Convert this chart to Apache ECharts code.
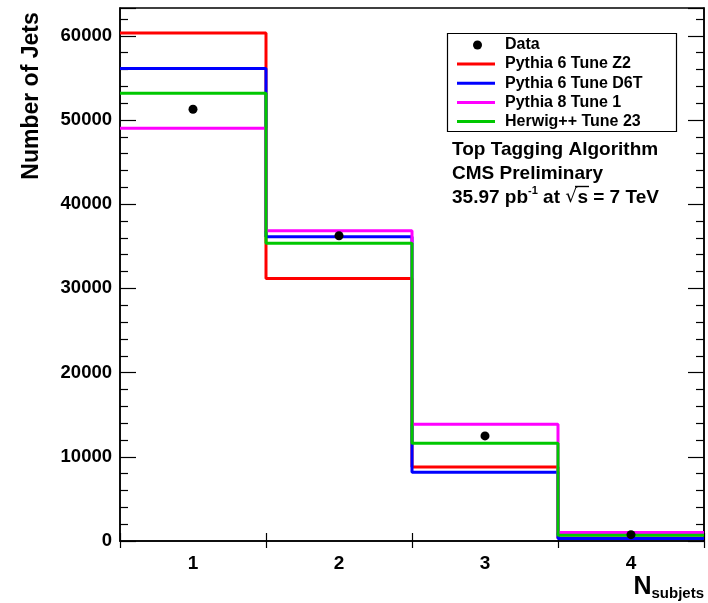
<!DOCTYPE html>
<html>
<head>
<meta charset="utf-8">
<script src="https://cdn.jsdelivr.net/npm/echarts@6/dist/echarts.min.js"></script>
<style>
  html, body { margin: 0; padding: 0; background: #fff; }
  #chart { width: 708px; height: 603px; }
</style>
</head>
<body>
<div id="chart"></div>
<script>
// Number of subjets per jet: bins and counts
const bins = [1, 2, 3, 4];
const binLabels = ['1', '2', '3', '4'];
const dataCounts   = [51280, 36250, 12480, 750];
const pythia6Z2    = [60320, 31180, 8800, 350];
const pythia6D6T   = [56110, 36130, 8160, 300];
const pythia8Tune1 = [49020, 36850, 13870, 1000];
const herwigTune23 = [53190, 35350, 11620, 680];
const yTicks = [0, 10000, 20000, 30000, 40000, 50000, 60000];

const FONT = '"Liberation Sans", Arial, Helvetica, sans-serif';

// Step outline of a histogram: flat top across each bin, vertical joins at edges
function stepPoints(values) {
  const pts = [];
  values.forEach((v, i) => {
    pts.push([bins[i] - 0.5, v]);
    pts.push([bins[i] + 0.5, v]);
  });
  return pts;
}

function histSeries(name, values, color) {
  return {
    name: name,
    type: 'line',
    xAxisIndex: 0,
    yAxisIndex: 0,
    data: stepPoints(values),
    showSymbol: false,
    symbol: 'none',
    lineStyle: { color: color, width: 3 },
    itemStyle: { color: color },
    animation: false
  };
}

const chart = echarts.init(document.getElementById('chart'), null, { renderer: 'canvas' });

const yMin = yTicks[0];
const yMax = 63300;
const grid = { left: 120, right: 4, top: 8, bottom: 62 };
const legendText = { color: '#000', fontFamily: FONT, fontWeight: 'bold', fontSize: 16 };

const option = {
  backgroundColor: '#ffffff',
  animation: false,
  grid: Object.assign({ show: true, borderColor: '#000', borderWidth: 1.5, backgroundColor: 'transparent' }, grid),
  xAxis: [
    {
      // bin edges with ticks pointing into the frame
      type: 'value', min: 0.5, max: 4.5, interval: 1, position: 'bottom',
      axisLine: { show: true, onZero: false, lineStyle: { color: '#000', width: 1.5 } },
      axisTick: { show: true, inside: true, length: 8, lineStyle: { color: '#000', width: 1.2 } },
      axisLabel: { show: false },
      splitLine: { show: false }
    },
    {
      // category labels centred in each bin
      type: 'category', data: binLabels, boundaryGap: true, position: 'bottom',
      axisLine: { show: false }, axisTick: { show: false },
      axisLabel: { show: true, margin: 13, color: '#000', fontFamily: FONT, fontWeight: 'bold', fontSize: 19 },
      splitLine: { show: false }
    },
    {
      // edge ticks continuing below the axis
      type: 'value', min: 0.5, max: 4.5, interval: 1, position: 'bottom',
      axisLine: { show: false, onZero: false },
      axisTick: { show: true, inside: false, length: 7, lineStyle: { color: '#000', width: 1.2 } },
      axisLabel: { show: false },
      splitLine: { show: false }
    }
  ],
  yAxis: [
    {
      type: 'value', min: yMin, max: yMax, interval: 10000, position: 'left',
      axisLine: { show: true, onZero: false, lineStyle: { color: '#000', width: 1.5 } },
      axisTick: { show: true, inside: true, length: 16, lineStyle: { color: '#000', width: 1.2 } },
      minorTick: { show: true, splitNumber: 5, length: 8, lineStyle: { color: '#000', width: 1.2 } },
      axisLabel: {
        show: true, margin: 8, color: '#000', fontFamily: FONT, fontWeight: 'bold', fontSize: 18.5,
        showMaxLabel: false,
        formatter: v => (yTicks.indexOf(v) >= 0 ? String(v) : '')
      },
      splitLine: { show: false }
    },
    {
      type: 'value', min: yMin, max: yMax, interval: 10000, position: 'right',
      axisLine: { show: true, onZero: false, lineStyle: { color: '#000', width: 1.5 } },
      axisTick: { show: true, inside: true, length: 16, lineStyle: { color: '#000', width: 1.2 } },
      minorTick: { show: true, splitNumber: 5, length: 8, lineStyle: { color: '#000', width: 1.2 } },
      axisLabel: { show: false },
      splitLine: { show: false }
    }
  ],
  legend: [
    {
      data: [{ name: 'Data', icon: 'circle' }],
      orient: 'vertical', left: 473, top: 37, padding: 0,
      itemWidth: 9, itemHeight: 9, itemGap: 0,
      selectedMode: false,
      textStyle: Object.assign({ padding: [0, 0, 0, 18] }, legendText)
    },
    {
      data: ['Pythia 6 Tune Z2', 'Pythia 6 Tune D6T', 'Pythia 8 Tune 1', 'Herwig++ Tune 23'].map(n => ({ name: n, icon: 'rect' })),
      orient: 'vertical', left: 457, top: 56, padding: 0,
      itemWidth: 38, itemHeight: 3, itemGap: 3.2,
      selectedMode: false,
      textStyle: Object.assign({ padding: [0, 0, 0, 5] }, legendText)
    }
  ],
  graphic: [
    {
      type: 'rect', shape: { x: 447.5, y: 33.5, width: 229, height: 98 },
      style: { fill: 'transparent', stroke: '#000', lineWidth: 1.2 }, z: 10
    },
    {
      type: 'text', left: 452, top: 140,
      style: {
        text: '{n|Top Tagging Algorithm}\n{n|CMS Preliminary}\n{n|35.97 pb}{sup|-1}{n| at }{r|√}{s|s}{n| = 7 TeV}',
        fill: '#000',
        rich: {
          n: { fontFamily: FONT, fontWeight: 'bold', fontSize: 19, lineHeight: 24 },
          sup: { fontFamily: FONT, fontWeight: 'bold', fontSize: 11, lineHeight: 24, verticalAlign: 'top', padding: [0, 0, 10, 0] },
          r: { fontFamily: '"DejaVu Sans", sans-serif', fontWeight: 'normal', fontSize: 19, lineHeight: 24 },
          s: { fontFamily: FONT, fontWeight: 'bold', fontSize: 19, lineHeight: 24 }
        }
      }
    },
    {
      // bar of the square-root sign over "s"
      type: 'line', shape: { x1: 575, y1: 186.5, x2: 589, y2: 186.5 },
      style: { stroke: '#000', lineWidth: 1.4 }
    },
    {
      type: 'text', x: 32, y: 96, rotation: Math.PI / 2,
      style: { text: 'Number of Jets', fill: '#000', font: 'bold 23px ' + FONT, align: 'center', verticalAlign: 'middle' }
    },
    {
      type: 'text', right: 4, top: 574,
      style: {
        text: '{N|N}{sub|subjets}',
        rich: {
          N: { fontFamily: FONT, fontWeight: 'bold', fontSize: 25, lineHeight: 28 },
          sub: { fontFamily: FONT, fontWeight: 'bold', fontSize: 15, lineHeight: 28, padding: [12, 0, 0, 0] }
        }
      }
    }
  ],
  series: [
    histSeries('Pythia 6 Tune Z2', pythia6Z2, '#ff0000'),
    histSeries('Pythia 6 Tune D6T', pythia6D6T, '#0000ff'),
    histSeries('Pythia 8 Tune 1', pythia8Tune1, '#ff00ff'),
    histSeries('Herwig++ Tune 23', herwigTune23, '#00c800'),
    {
      name: 'Data', type: 'scatter', xAxisIndex: 0, yAxisIndex: 0,
      data: bins.map((b, i) => [b, dataCounts[i]]),
      symbol: 'circle', symbolSize: 9,
      itemStyle: { color: '#000', opacity: 1 }, z: 5
    }
  ]
};

chart.setOption(option);
</script>
</body>
</html>
